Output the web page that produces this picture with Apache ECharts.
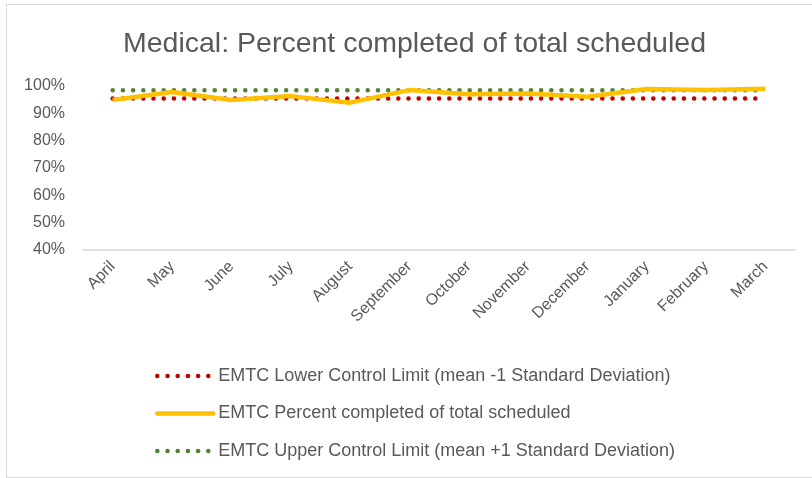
<!DOCTYPE html>
<html>
<head>
<meta charset="utf-8">
<script src="https://cdn.jsdelivr.net/npm/echarts@6/dist/echarts.min.js"></script>
<style>
  html, body { margin: 0; padding: 0; background: #fff; }
  #frame { position: absolute; left: 6px; top: 4px; width: 820px; height: 472px; border: 1px solid #d9d9d9; }
  #main { position: absolute; left: 0; top: 0; width: 812px; height: 478px; }
</style>
</head>
<body>
<div id="frame"></div>
<div id="main"></div>
<script>
// months of the year (April -> March)
var months = ['April', 'May', 'June', 'July', 'August', 'September', 'October',
  'November', 'December', 'January', 'February', 'March'];
// percent completed of total scheduled
var pctCompleted = [0.949, 0.978, 0.949, 0.963, 0.939, 0.985, 0.970, 0.973, 0.961, 0.989, 0.985, 0.990];
// control limits (flat lines)
var lowerLimit = [0.954, 0.954, 0.954, 0.954, 0.954, 0.954, 0.954, 0.954, 0.954, 0.954, 0.954, 0.954];
var upperLimit = [0.984, 0.984, 0.984, 0.984, 0.984, 0.984, 0.984, 0.984, 0.984, 0.984, 0.984, 0.984];

var txt = '#595959';
var fnt = 'Liberation Sans';
var dots = [0.1, 10.1];

var names = [
  'EMTC Lower Control Limit (mean -1 Standard Deviation)',
  'EMTC Percent completed of total scheduled',
  'EMTC Upper Control Limit (mean +1 Standard Deviation)'
];

var option = {
  animation: false,
  title: {
    text: 'Medical: Percent completed of total scheduled',
    left: 118,
    top: 25,
    textStyle: { fontFamily: fnt, fontSize: 28.5, fontWeight: 'normal', color: txt }
  },
  legend: {
    orient: 'vertical',
    left: 150,
    top: 362,
    itemWidth: 56,
    itemHeight: 6,
    itemGap: 19.5,
    textStyle: { fontFamily: fnt, fontSize: 18, color: txt },
    data: [
      { name: names[0], itemStyle: { opacity: 0 },
        lineStyle: { color: '#c00000', width: 4.5, type: dots, cap: 'round' } },
      { name: names[1], itemStyle: { opacity: 0 },
        lineStyle: { color: '#ffc000', width: 4.5, cap: 'round' } },
      { name: names[2], itemStyle: { opacity: 0 },
        lineStyle: { color: '#548235', width: 4.5, type: dots, cap: 'round' } }
    ]
  },
  grid: { left: 83, right: 17, top: 86, bottom: 228 },
  xAxis: {
    type: 'category',
    data: months,
    axisLine: { lineStyle: { color: '#d9d9d9', width: 1.5 } },
    axisTick: { show: false },
    axisLabel: { rotate: 45, fontFamily: fnt, fontSize: 16, color: txt, margin: 14, interval: 0 }
  },
  yAxis: {
    type: 'value',
    min: 0.4,
    max: 1.0,
    interval: 0.1,
    axisLine: { show: false },
    axisTick: { show: false },
    splitLine: { show: false },
    axisLabel: {
      fontFamily: fnt, fontSize: 16, color: txt, margin: 18,
      formatter: function (v) { return Math.round(v * 100) + '%'; }
    }
  },
  series: [
    {
      name: names[0],
      type: 'line',
      data: lowerLimit,
      symbol: 'none',
      z: 2,
      lineStyle: { color: '#c00000', width: 4.5, type: dots, cap: 'round' },
      itemStyle: { color: '#c00000' }
    },
    {
      name: names[1],
      type: 'line',
      data: pctCompleted,
      symbol: 'none',
      z: 3,
      lineStyle: { color: '#ffc000', width: 4.5 },
      itemStyle: { color: '#ffc000' }
    },
    {
      name: names[2],
      type: 'line',
      data: upperLimit,
      symbol: 'none',
      z: 2,
      lineStyle: { color: '#548235', width: 4.5, type: dots, cap: 'round' },
      itemStyle: { color: '#548235' }
    }
  ]
};

var myChart = echarts.init(document.getElementById('main'));
myChart.setOption(option);
</script>
</body>
</html>
